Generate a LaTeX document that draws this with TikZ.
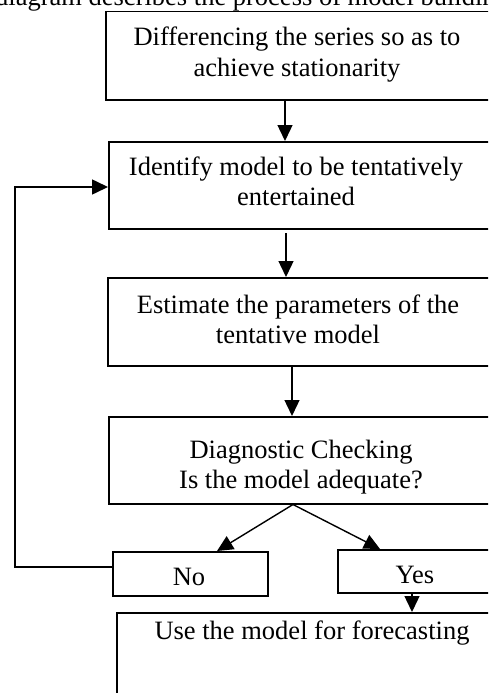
\documentclass[tikz,border=0pt]{standalone}
\usepackage{fontspec}
\setmainfont{Liberation Serif}
\usetikzlibrary{arrows.meta}
\begin{document}
\begin{tikzpicture}[x=1pt,y=-1pt,
  box/.style={draw, line width=1.5pt, anchor=north west, inner sep=0pt},
  txt/.style={anchor=base, inner sep=0pt, font=\fontsize{26.5}{30}\selectfont},
  arr/.style={line width=1.4pt, -{Triangle[length=16pt,width=15pt]}},
  fb/.style={line width=2.2pt}]
\useasboundingbox (0,0) rectangle (488,693);
\clip (0,0) rectangle (488,693);
% header text
\node[txt, anchor=base west] (hdr) at (-5,6) {diagram describes the process of model building};
% boxes
\node[box, minimum width=390pt, minimum height=88pt] (b1) at (105,11) {};
\node[box, minimum width=387pt, minimum height=87pt] (b2) at (108,141) {};
\node[box, minimum width=388pt, minimum height=88pt] (b3) at (107,277) {};
\node[box, minimum width=387pt, minimum height=87pt] (b4) at (108,416) {};
\node[box, minimum width=155pt, minimum height=44pt] (no) at (112,551) {};
\node[box, minimum width=158pt, minimum height=43pt] (yes) at (337,549) {};
\node[box, minimum width=380pt, minimum height=120pt] (b5) at (116,612) {};
% texts
\node[txt] (t1a) at (297,46) {Differencing the series so as to};
\node[txt] (t1b) at (297,76) {achieve stationarity};
\node[txt] (t2a) at (296,175) {Identify model to be tentatively};
\node[txt] (t2b) at (296,205) {entertained};
\node[txt] (t3a) at (298,313) {Estimate the parameters of the};
\node[txt] (t3b) at (298,343) {tentative model};
\node[txt] (t4a) at (301,458) {Diagnostic Checking};
\node[txt] (t4b) at (301,488) {Is the model adequate?};
\node[txt] (tno) at (189,585) {No};
\node[txt] (tyes) at (415,583) {Yes};
\node[txt] (t5) at (312,639) {Use the model for forecasting};
% connectors
\draw[arr] (285,0 |- b1.south) -- (285,0 |- b2.north);
\draw[arr] (286,233) -- (286,0 |- b3.north);
\draw[arr] (292,0 |- b3.south) -- (292,0 |- b4.north);
\coordinate (split) at (293,0 |- b4.south);
\draw[arr] (split) -- (217,0 |- no.north);
\draw[arr] (split) -- (380,0 |- yes.north);
\draw[arr] (412,0 |- yes.south) -- (412,0 |- b5.north);
\coordinate (fbl) at (15,567);
\draw[fb] (no.west |- fbl) -- (fbl) -- (15,187);
\draw[arr, line width=1.6pt] (14,187) -- (b2.west |- 0,187);
\end{tikzpicture}
\end{document}
